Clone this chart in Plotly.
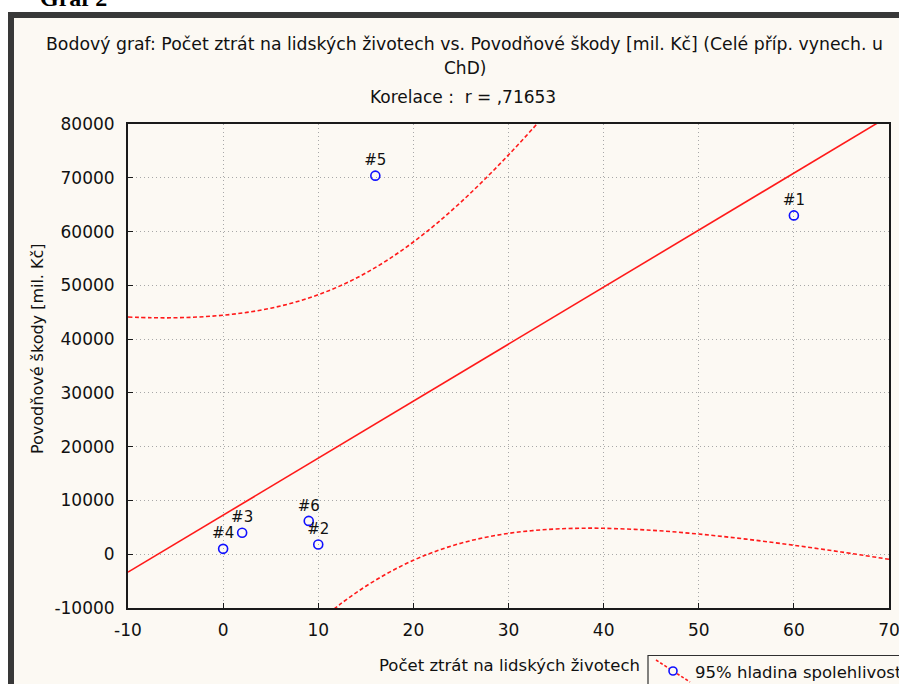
import plotly.graph_objects as go

# ---- data ----
case_labels = ["#1", "#2", "#3", "#4", "#5", "#6"]
lives_lost = [60, 10, 2, 0, 16, 9]
flood_damage = [63000, 1800, 4000, 1000, 70400, 6200]

fit_x = [-10, 70]
fit_y = [-3340, 81470]

upper_x = [-10, -7.5, -5, -2.5, 0, 2.5, 5, 7.5, 10, 12.5, 15, 17.5, 20, 22.5, 25, 27.5, 30, 32.5, 35]
upper_y = [44100, 43980, 43970, 44120, 44440, 44970, 45750, 46830, 48260, 50060, 52290, 54960,
           58060, 61580, 65480, 69720, 74250, 79040, 84030]

lower_x = [10, 12.5, 15, 17.5, 20, 22.5, 25, 27.5, 30, 32.5, 35, 37.5, 40, 45, 50, 55, 60, 65, 70]
lower_y = [-12530, -9040, -5960, -3330, -1130, 650, 2050, 3110, 3880, 4390, 4700, 4830, 4820,
           4460, 3750, 2800, 1670, 410, -940]

x_ticks = [-10, 0, 10, 20, 30, 40, 50, 60, 70]
x_tick_text = ["-10", "0", "10", "20", "30", "40", "50", "60", "70"]
y_ticks = [-10000, 0, 10000, 20000, 30000, 40000, 50000, 60000, 70000, 80000]
y_tick_text = ["-10000", "0", "10000", "20000", "30000", "40000", "50000", "60000", "70000", "80000"]

title_line1 = "Bodový graf: Počet ztrát na lidských životech vs. Povodňové škody [mil. Kč] (Celé příp. vynech. u"
title_line2 = "ChD)"
title_line3 = "Korelace :  r = ,71653"
x_title = "Počet ztrát na lidských životech"
y_title = "Povodňové škody [mil. Kč]"
legend_text = "95% hladina spolehlivosti"
heading = "Graf 2"

# ---- layout geometry (pixels) ----
W, H = 899, 684
L, R, T, B = 128, 889, 124, 608
FONT = "DejaVu Sans"
BG = "#fcf9f3"
RED = "#ff1a1a"
TXT = "#111111"


def px(xp):
    return (xp - L) / (R - L)


def py(yp):
    return (B - yp) / (B - T)


fig = go.Figure()

band_line = dict(color=RED, width=1.6, dash="4px,2.5px", shape="spline")
fig.add_trace(go.Scatter(x=upper_x, y=upper_y, mode="lines", line=band_line, showlegend=False, hoverinfo="skip"))
fig.add_trace(go.Scatter(x=lower_x, y=lower_y, mode="lines", line=band_line, showlegend=False, hoverinfo="skip"))
fig.add_trace(go.Scatter(x=fit_x, y=fit_y, mode="lines", line=dict(color=RED, width=1.6),
                         showlegend=False, hoverinfo="skip"))
fig.add_trace(go.Scatter(x=lives_lost, y=flood_damage, mode="markers+text", text=case_labels,
                         textposition="top center", textfont=dict(family=FONT, size=15, color=TXT),
                         marker=dict(symbol="circle-open", size=9, color="#1010ff", line=dict(width=1.6)),
                         showlegend=False, cliponaxis=False))

shapes = [
    # outer window frame
    dict(type="rect", xref="paper", yref="paper", x0=px(11), x1=px(915), y0=py(15), y1=py(705),
         line=dict(color="#383838", width=6), fillcolor=BG, layer="below"),
    # legend box
    dict(type="rect", xref="paper", yref="paper", x0=px(648), x1=px(920), y0=py(655.5), y1=py(700),
         line=dict(color="#303030", width=1.2), fillcolor=BG, layer="above"),
    dict(type="line", xref="paper", yref="paper", x0=px(656), x1=px(690), y0=py(660), y1=py(682),
         line=dict(color=RED, width=1.6, dash="3px,2px"), layer="above"),
    dict(type="circle", xref="paper", yref="paper", x0=px(669), x1=px(677), y0=py(667), y1=py(675),
         line=dict(color="#1010ff", width=1.6), fillcolor=BG, layer="above"),
]

annotations = [
    dict(text="<b>" + heading + "</b>", x=px(38), y=py(13), xref="paper", yref="paper", xanchor="left",
         yanchor="bottom", showarrow=False, font=dict(family="Liberation Serif", size=24, color="black")),
    dict(text=title_line1, x=px(464), y=py(44), xref="paper", yref="paper", xanchor="center", yanchor="middle",
         showarrow=False, font=dict(family=FONT, size=17.3, color=TXT)),
    dict(text=title_line2, x=px(465), y=py(68), xref="paper", yref="paper", xanchor="center", yanchor="middle",
         showarrow=False, font=dict(family=FONT, size=17, color=TXT)),
    dict(text=title_line3, x=px(463), y=py(97), xref="paper", yref="paper", xanchor="center", yanchor="middle",
         showarrow=False, font=dict(family=FONT, size=17, color=TXT)),
    dict(text=x_title, x=px(509), y=py(665), xref="paper", yref="paper", xanchor="center", yanchor="middle",
         showarrow=False, font=dict(family=FONT, size=16.5, color=TXT)),
    dict(text=y_title, x=px(37), y=py(349), xref="paper", yref="paper", xanchor="center", yanchor="middle",
         textangle=-90, showarrow=False, font=dict(family=FONT, size=16, color=TXT)),
    dict(text=legend_text, x=px(693), y=py(672), xref="paper", yref="paper", xanchor="left", yanchor="middle",
         showarrow=False, font=dict(family=FONT, size=16.5, color=TXT)),
]

axis_common = dict(showline=True, mirror=True, linecolor="#1a1a1a", linewidth=2,
                   ticks="inside", ticklen=5, tickcolor="#1a1a1a", tickwidth=1,
                   showgrid=True, gridcolor="#a8a8a8", gridwidth=1, griddash="1px,3px",
                   zeroline=False, ticklabeloverflow="allow",
                   tickfont=dict(family=FONT, size=17, color=TXT))

fig.update_layout(
    width=W, height=H,
    margin=dict(l=L, r=W - R, t=T, b=H - B, autoexpand=False),
    paper_bgcolor="white", plot_bgcolor="white",
    showlegend=False,
    xaxis=dict(range=[-10, 70], tickmode="array", tickvals=x_ticks, ticktext=x_tick_text,
               ticklabelstandoff=6, **axis_common),
    yaxis=dict(range=[-10000, 80000], tickmode="array", tickvals=y_ticks, ticktext=y_tick_text,
               ticklabelstandoff=8, **axis_common),
    shapes=shapes,
    annotations=annotations,
)

fig.write_html("out.html", config={"displayModeBar": False},
               post_script="document.body.style.margin='0px';")
